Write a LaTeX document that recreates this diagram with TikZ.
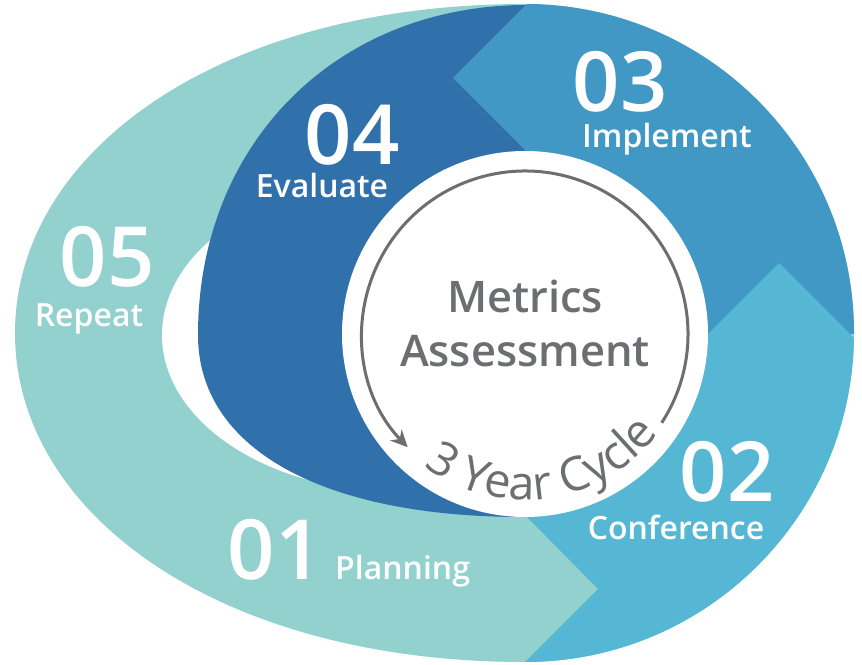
\documentclass[tikz,border=0pt]{standalone}
\usepackage{fontspec}
\setmainfont{Open Sans}
\newfontfamily\semibold{Open Sans Semibold}
\usepackage{tikz}
\usetikzlibrary{arrows.meta,decorations.text}
\definecolor{tealband}{HTML}{92D1CD}
\definecolor{bluedark}{HTML}{3070AB}
\definecolor{bluemid}{HTML}{4298C4}
\definecolor{bluelight}{HTML}{55B7D3}
\definecolor{greytext}{HTML}{6D6E71}

\begin{document}
\begin{tikzpicture}[x=1pt,y=1pt]
\tikzstyle{every node}+=[inner sep=0pt]
\tikzstyle{num}=[text=white,font=\semibold\fontsize{83}{83}\selectfont,anchor=base]
\tikzstyle{lbl}=[text=white,font=\semibold\fontsize{32}{32}\selectfont,anchor=base]
\tikzstyle{centre}=[text=greytext,font=\semibold\fontsize{43.5}{43.5}\selectfont,anchor=base]
\useasboundingbox (0,0) rectangle (862,664);
\begin{scope}
\clip (525,660) .. controls (219,660) and (15,512) .. (15,331)
  .. controls (15,150) and (219,2) .. (525,2)
  arc (-90:90:329);
\fill [tealband] (0,0) rectangle (862,664);
\fill [white] (400,329) ellipse (238 and 157);
% 04
\fill [bluedark] (527,659) .. controls (336,659) and (198,520) .. (198,329)
  .. controls (198,216) and (321,147) .. (523,147) -- (527,147) -- cycle;
% 03
\fill [bluemid] (527,512) -- (453,586) -- (553,686) -- (900,686) -- (900,330) -- (527,330) -- cycle;
% 02
\fill [bluelight] (527,147) -- (598,75) -- (515,-8) -- (900,-8) -- (900,280) -- (779,401) -- (708,330) -- cycle;
\end{scope}
\fill [white] (525,330) circle (183);
\draw [greytext, line width=3pt, -{Stealth[length=17pt,width=16pt]}] (525,330) ++(-33:163) arc (-33:224:163);
\path [decorate, decoration={text along path, text align=center, text color=greytext,
  text={|\fontsize{47}{47}\selectfont|3 Year Cycle}}] (525,330) ++(198:166) arc (198:358:166);
\node [centre] (metrics) at (525,351) {Metrics};
\node [centre] (assess) at (525,297) {Assessment};
\node [num] (n04) at (352,499) {04};
\node [lbl] (l04) at (322,466) {Evaluate};
\node [num] (n05) at (107,377) {05};
\node [lbl] (l05) at (89,337) {Repeat};
\node [num] (n03) at (620,552) {03};
\node [lbl] (l03) at (667,516) {Implement};
\node [num] (n02) at (727,162) {02};
\node [lbl] (l02) at (676,124) {Conference};
\node [num] (n01) at (275,84) {01};
\node [lbl, anchor=base west] (l01) at (335,84) {Planning};
\end{tikzpicture}
\end{document}
